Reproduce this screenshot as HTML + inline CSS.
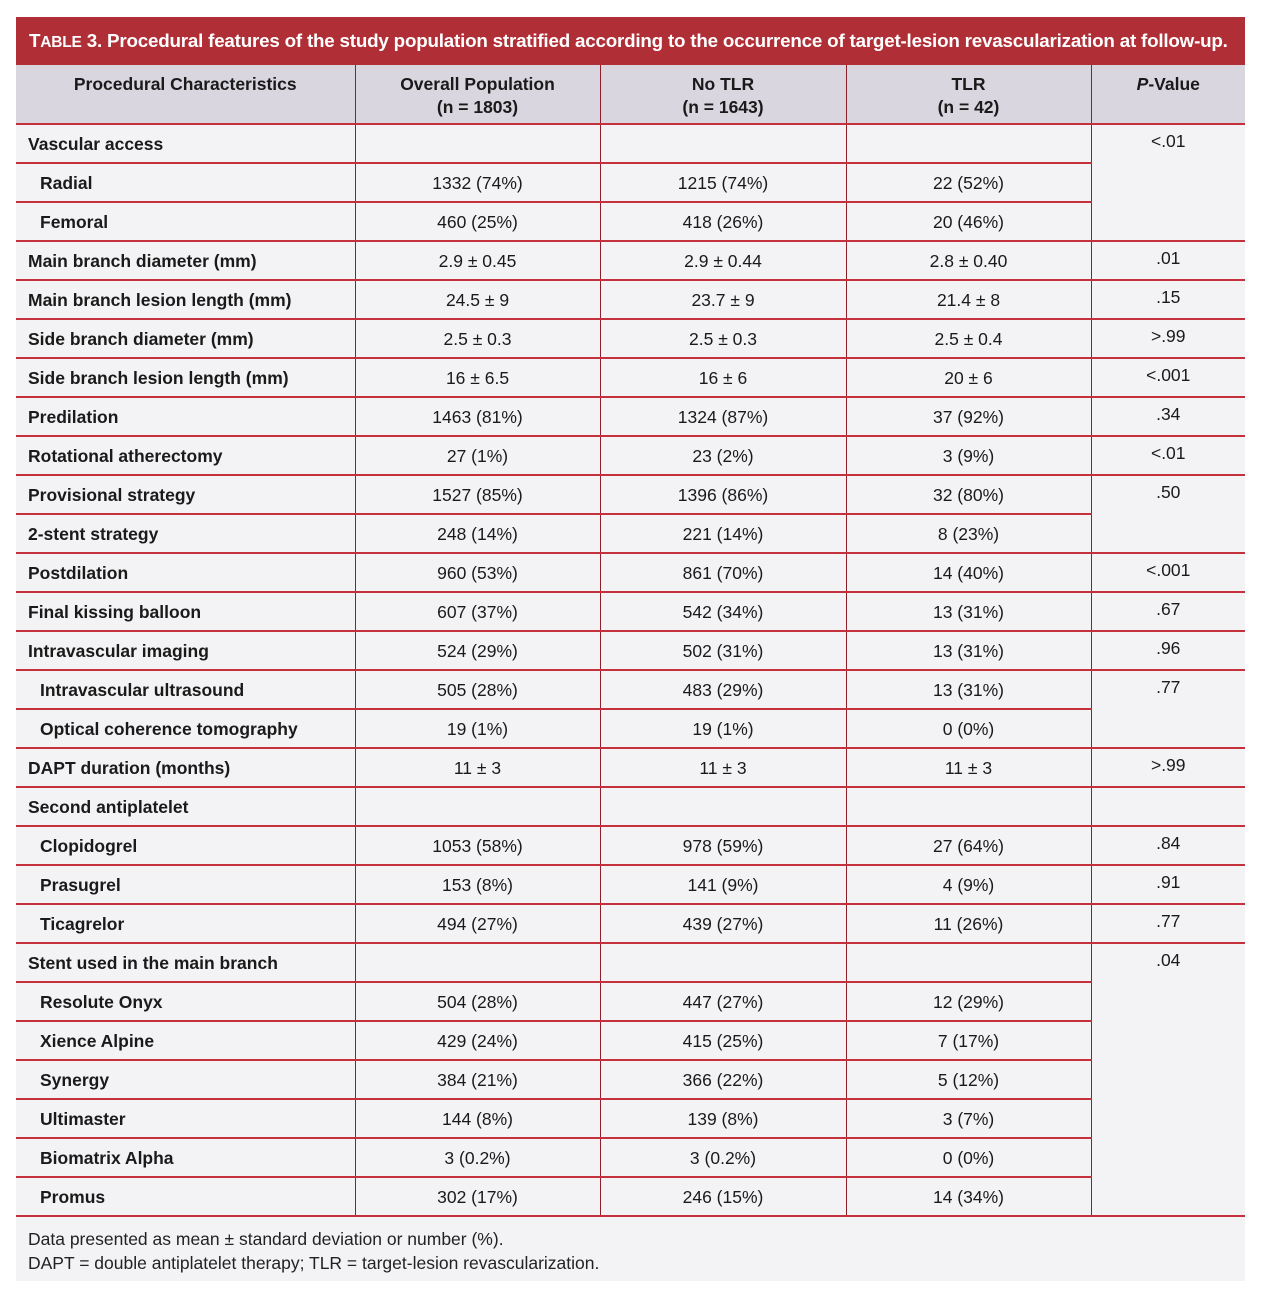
<!DOCTYPE html>
<html><head><meta charset="utf-8"><style>
body{margin:0;background:#fff;width:1263px;height:1300px;position:relative;font-family:"Liberation Sans",sans-serif;}
.title{position:absolute;left:16px;top:17px;width:1229px;height:48px;background:#b02e36;color:#fff;font-weight:bold;font-size:18.8px;line-height:48px;box-sizing:border-box;padding-left:13px;white-space:nowrap;letter-spacing:-0.2px}
.title .sc{font-size:15.5px}
table{position:absolute;left:16px;top:65px;width:1229px;border-collapse:collapse;table-layout:fixed;background:#f3f3f5;color:#1a1a1a;font-size:17.5px}
thead tr{height:59px}
tbody tr{height:39px}
th{background:#d9d6df;font-weight:bold;vertical-align:top;padding:8px 0 0 0;line-height:23px;border-left:1.5px solid #8e1f28;border-bottom:2px solid #c4313c}
th:first-child{border-left:none}
td{border-top:2px solid #c4313c;border-left:1.5px solid #8e1f28;text-align:center;padding:0;line-height:20px}
td:first-child{border-left:none;text-align:left;font-weight:bold;padding-left:12px}
td.i{padding-left:24px}
td.p{vertical-align:top;padding-top:6px}
tr:first-child td{border-top:none}
.foot{position:absolute;left:16px;top:1215px;width:1229px;height:66px;background:#f3f3f5;border-top:2px solid #c4313c;box-sizing:border-box;padding:10px 0 0 12px;font-size:17.5px;line-height:24px;color:#222}
</style></head><body>
<div class="title"><span>T<span class="sc">ABLE</span> 3.</span> Procedural features of the study population stratified according to the occurrence of target-lesion revascularization at follow-up.</div>
<table>
<colgroup><col style="width:339px"><col style="width:245px"><col style="width:246px"><col style="width:245px"><col style="width:154px"></colgroup>
<thead><tr><th>Procedural Characteristics</th><th>Overall Population<br>(n = 1803)</th><th>No TLR<br>(n = 1643)</th><th>TLR<br>(n = 42)</th><th><i>P</i>-Value</th></tr></thead>
<tbody>
<tr><td>Vascular access</td><td></td><td></td><td></td><td class="p" rowspan="3">&lt;.01</td></tr>
<tr><td class="i">Radial</td><td>1332 (74%)</td><td>1215 (74%)</td><td>22 (52%)</td></tr>
<tr><td class="i">Femoral</td><td>460 (25%)</td><td>418 (26%)</td><td>20 (46%)</td></tr>
<tr><td>Main branch diameter (mm)</td><td>2.9 ± 0.45</td><td>2.9 ± 0.44</td><td>2.8 ± 0.40</td><td class="p">.01</td></tr>
<tr><td>Main branch lesion length (mm)</td><td>24.5 ± 9</td><td>23.7 ± 9</td><td>21.4 ± 8</td><td class="p">.15</td></tr>
<tr><td>Side branch diameter (mm)</td><td>2.5 ± 0.3</td><td>2.5 ± 0.3</td><td>2.5 ± 0.4</td><td class="p">&gt;.99</td></tr>
<tr><td>Side branch lesion length (mm)</td><td>16 ± 6.5</td><td>16 ± 6</td><td>20 ± 6</td><td class="p">&lt;.001</td></tr>
<tr><td>Predilation</td><td>1463 (81%)</td><td>1324 (87%)</td><td>37 (92%)</td><td class="p">.34</td></tr>
<tr><td>Rotational atherectomy</td><td>27 (1%)</td><td>23 (2%)</td><td>3 (9%)</td><td class="p">&lt;.01</td></tr>
<tr><td>Provisional strategy</td><td>1527 (85%)</td><td>1396 (86%)</td><td>32 (80%)</td><td class="p" rowspan="2">.50</td></tr>
<tr><td>2-stent strategy</td><td>248 (14%)</td><td>221 (14%)</td><td>8 (23%)</td></tr>
<tr><td>Postdilation</td><td>960 (53%)</td><td>861 (70%)</td><td>14 (40%)</td><td class="p">&lt;.001</td></tr>
<tr><td>Final kissing balloon</td><td>607 (37%)</td><td>542 (34%)</td><td>13 (31%)</td><td class="p">.67</td></tr>
<tr><td>Intravascular imaging</td><td>524 (29%)</td><td>502 (31%)</td><td>13 (31%)</td><td class="p">.96</td></tr>
<tr><td class="i">Intravascular ultrasound</td><td>505 (28%)</td><td>483 (29%)</td><td>13 (31%)</td><td class="p" rowspan="2">.77</td></tr>
<tr><td class="i">Optical coherence tomography</td><td>19 (1%)</td><td>19 (1%)</td><td>0 (0%)</td></tr>
<tr><td>DAPT duration (months)</td><td>11 ± 3</td><td>11 ± 3</td><td>11 ± 3</td><td class="p">&gt;.99</td></tr>
<tr><td>Second antiplatelet</td><td></td><td></td><td></td><td class="p"></td></tr>
<tr><td class="i">Clopidogrel</td><td>1053 (58%)</td><td>978 (59%)</td><td>27 (64%)</td><td class="p">.84</td></tr>
<tr><td class="i">Prasugrel</td><td>153 (8%)</td><td>141 (9%)</td><td>4 (9%)</td><td class="p">.91</td></tr>
<tr><td class="i">Ticagrelor</td><td>494 (27%)</td><td>439 (27%)</td><td>11 (26%)</td><td class="p">.77</td></tr>
<tr><td>Stent used in the main branch</td><td></td><td></td><td></td><td class="p" rowspan="7">.04</td></tr>
<tr><td class="i">Resolute Onyx</td><td>504 (28%)</td><td>447 (27%)</td><td>12 (29%)</td></tr>
<tr><td class="i">Xience Alpine</td><td>429 (24%)</td><td>415 (25%)</td><td>7 (17%)</td></tr>
<tr><td class="i">Synergy</td><td>384 (21%)</td><td>366 (22%)</td><td>5 (12%)</td></tr>
<tr><td class="i">Ultimaster</td><td>144 (8%)</td><td>139 (8%)</td><td>3 (7%)</td></tr>
<tr><td class="i">Biomatrix Alpha</td><td>3 (0.2%)</td><td>3 (0.2%)</td><td>0 (0%)</td></tr>
<tr><td class="i">Promus</td><td>302 (17%)</td><td>246 (15%)</td><td>14 (34%)</td></tr>
</tbody></table>
<div class="foot">Data presented as mean ± standard deviation or number (%).<br>DAPT = double antiplatelet therapy; TLR = target-lesion revascularization.</div>
</body></html>
